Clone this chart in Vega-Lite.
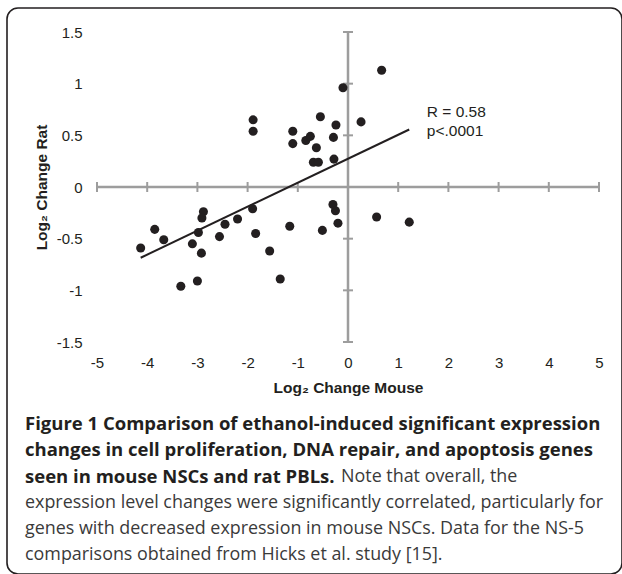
{
  "$schema": "https://vega.github.io/schema/vega-lite/v6.json",
  "width": 615,
  "height": 566,
  "autosize": {"type": "none"},
  "padding": {"left": 7, "top": 8, "right": 0, "bottom": 0},
  "background": "white",
  "title": {
    "text": ["Figure 1 Comparison of ethanol-induced significant expression", "changes in cell proliferation, DNA repair, and apoptosis genes", "seen in mouse NSCs and rat PBLs."],
    "subtitle": ["\u200b\u00a0\u00a0\u00a0\u00a0\u00a0\u00a0\u00a0\u00a0\u00a0\u00a0\u00a0\u00a0\u00a0\u00a0\u00a0\u00a0\u00a0\u00a0\u00a0\u00a0\u00a0\u00a0\u00a0\u00a0\u00a0\u00a0\u00a0\u00a0\u00a0\u00a0\u00a0\u00a0\u00a0\u00a0\u00a0\u00a0\u00a0\u00a0\u00a0\u00a0\u00a0\u00a0\u00a0\u00a0\u00a0\u00a0\u00a0\u00a0\u00a0\u00a0\u00a0\u00a0\u00a0\u00a0\u00a0\u00a0\u00a0\u00a0\u00a0\u00a0\u00a0\u00a0\u00a0\u00a0\u00a0\u00a0\u00a0\u00a0Note that overall, the", "expression level changes were significantly correlated, particularly for", "genes with decreased expression in mouse NSCs. Data for the NS-5", "comparisons obtained from Hicks et al. study [15]."],
    "orient": "bottom",
    "anchor": "start",
    "frame": "group",
    "offset": -159,
    "dx": 18,
    "font": "Open Sans",
    "fontSize": 18.5,
    "fontWeight": "bold",
    "color": "#231f20",
    "lineHeight": 26.3,
    "subtitleFont": "Open Sans",
    "subtitleFontSize": 17.9,
    "subtitleFontWeight": "normal",
    "subtitleColor": "#3a3a3a",
    "subtitleLineHeight": 26.3,
    "subtitlePadding": -18.5
  },
  "datasets": {
    "points": [
      {"x": 0.67, "y": 1.13}, {"x": -0.10, "y": 0.96}, {"x": -1.89, "y": 0.65}, {"x": -1.89, "y": 0.54},
      {"x": -0.55, "y": 0.68}, {"x": -0.24, "y": 0.60}, {"x": 0.26, "y": 0.63}, {"x": -1.10, "y": 0.54},
      {"x": -1.10, "y": 0.42}, {"x": -0.84, "y": 0.45}, {"x": -0.75, "y": 0.49}, {"x": -0.29, "y": 0.48},
      {"x": -0.63, "y": 0.38}, {"x": -0.69, "y": 0.24}, {"x": -0.59, "y": 0.24}, {"x": -0.28, "y": 0.27},
      {"x": -0.30, "y": -0.17}, {"x": -0.25, "y": -0.23}, {"x": -0.20, "y": -0.35}, {"x": 0.57, "y": -0.29},
      {"x": 1.22, "y": -0.34}, {"x": -0.51, "y": -0.42}, {"x": -1.16, "y": -0.38}, {"x": -1.90, "y": -0.21},
      {"x": -1.84, "y": -0.45}, {"x": -1.56, "y": -0.62}, {"x": -1.35, "y": -0.89}, {"x": -2.20, "y": -0.31},
      {"x": -2.45, "y": -0.36}, {"x": -2.56, "y": -0.48}, {"x": -2.88, "y": -0.24}, {"x": -2.91, "y": -0.30},
      {"x": -2.98, "y": -0.44}, {"x": -3.10, "y": -0.55}, {"x": -2.92, "y": -0.64}, {"x": -3.00, "y": -0.91},
      {"x": -3.33, "y": -0.96}, {"x": -3.85, "y": -0.41}, {"x": -3.67, "y": -0.51}, {"x": -4.13, "y": -0.59}
    ],
    "labels": [
      {"x": 1.57, "y": 0.73, "label": "R = 0.58"},
      {"x": 1.57, "y": 0.54, "label": "p<.0001"}
    ],
    "xticks": [{"x": -5}, {"x": -4}, {"x": -3}, {"x": -2}, {"x": -1}, {"x": 0}, {"x": 1}, {"x": 2}, {"x": 3}, {"x": 4}, {"x": 5}],
    "yticks": [{"y": -1.5}, {"y": -1}, {"y": -0.5}, {"y": 0.5}, {"y": 1}, {"y": 1.5}]
  },
  "layer": [
    {
      "data": {"name": "points"},
      "mark": {"type": "point", "filled": true, "size": 82, "opacity": 0},
      "encoding": {
        "x": {"field": "x", "type": "quantitative", "scale": {"domain": [-5, 5], "range": [90, 592], "nice": false, "zero": false}, "axis": {"title": "Log₂ Change Mouse", "values": [-5, -4, -3, -2, -1, 0, 1, 2, 3, 4, 5]}},
        "y": {"field": "y", "type": "quantitative", "scale": {"domain": [-1.5, 1.5], "range": [334, 24], "nice": false, "zero": false}, "axis": {"title": "Log₂ Change Rat", "values": [-1.5, -1, -0.5, 0, 0.5, 1, 1.5]}}
      }
    },
    {
      "data": {"values": [{}]},
      "mark": {"type": "rule", "color": "#9d9d9d", "strokeWidth": 2.5},
      "encoding": {
        "x": {"datum": -5, "type": "quantitative"},
        "x2": {"datum": 5},
        "y": {"datum": 0, "type": "quantitative"}
      }
    },
    {
      "data": {"values": [{}]},
      "mark": {"type": "rule", "color": "#9d9d9d", "strokeWidth": 2.5},
      "encoding": {
        "x": {"datum": 0, "type": "quantitative"},
        "y": {"datum": -1.5, "type": "quantitative"},
        "y2": {"datum": 1.5}
      }
    },
    {
      "data": {"name": "xticks"},
      "mark": {"type": "tick", "orient": "vertical", "size": 10, "thickness": 2, "color": "#9d9d9d", "opacity": 1},
      "encoding": {
        "x": {"field": "x", "type": "quantitative"},
        "y": {"datum": 0, "type": "quantitative"}
      }
    },
    {
      "data": {"name": "yticks"},
      "mark": {"type": "tick", "orient": "horizontal", "size": 10, "thickness": 2, "color": "#9d9d9d", "opacity": 1},
      "encoding": {
        "x": {"datum": 0, "type": "quantitative"},
        "y": {"field": "y", "type": "quantitative"}
      }
    },
    {
      "data": {"name": "points"},
      "transform": [{"regression": "y", "on": "x"}],
      "mark": {"type": "line", "color": "#231f20", "strokeWidth": 2},
      "encoding": {
        "x": {"field": "x", "type": "quantitative"},
        "y": {"field": "y", "type": "quantitative"}
      }
    },
    {
      "data": {"name": "points"},
      "mark": {"type": "point", "filled": true, "size": 82, "opacity": 1, "color": "#231f20"},
      "encoding": {
        "x": {"field": "x", "type": "quantitative"},
        "y": {"field": "y", "type": "quantitative"}
      }
    },
    {
      "data": {"name": "labels"},
      "mark": {"type": "text", "align": "left", "baseline": "middle", "font": "Liberation Sans", "fontSize": 15.5, "color": "#231f20"},
      "encoding": {
        "x": {"field": "x", "type": "quantitative"},
        "y": {"field": "y", "type": "quantitative"},
        "text": {"field": "label"}
      }
    }
  ],
  "config": {
    "view": {"stroke": "#231f20", "strokeWidth": 1.6, "cornerRadius": 11},
    "axisX": {
      "domain": false, "ticks": false, "tickSize": 0, "grid": false, "labelPadding": 0, "offset": -219,
      "labelExpr": "toString(datum.value)",
      "labelFont": "Liberation Sans", "labelFontSize": 15, "labelColor": "#231f20", "labelFlush": false, "labelOverlap": false,
      "titleFont": "Liberation Sans", "titleFontSize": 15.5, "titleFontWeight": "bold", "titleColor": "#231f20", "titlePadding": 10
    },
    "axisY": {
      "domain": false, "ticks": false, "tickSize": 0, "grid": false, "labelPadding": 0, "offset": -75,
      "labelExpr": "toString(datum.value)",
      "labelFont": "Liberation Sans", "labelFontSize": 15, "labelColor": "#231f20", "labelFlush": false, "labelOverlap": false,
      "titleFont": "Liberation Sans", "titleFontSize": 15.5, "titleFontWeight": "bold", "titleColor": "#231f20", "titlePadding": 7
    }
  }
}
